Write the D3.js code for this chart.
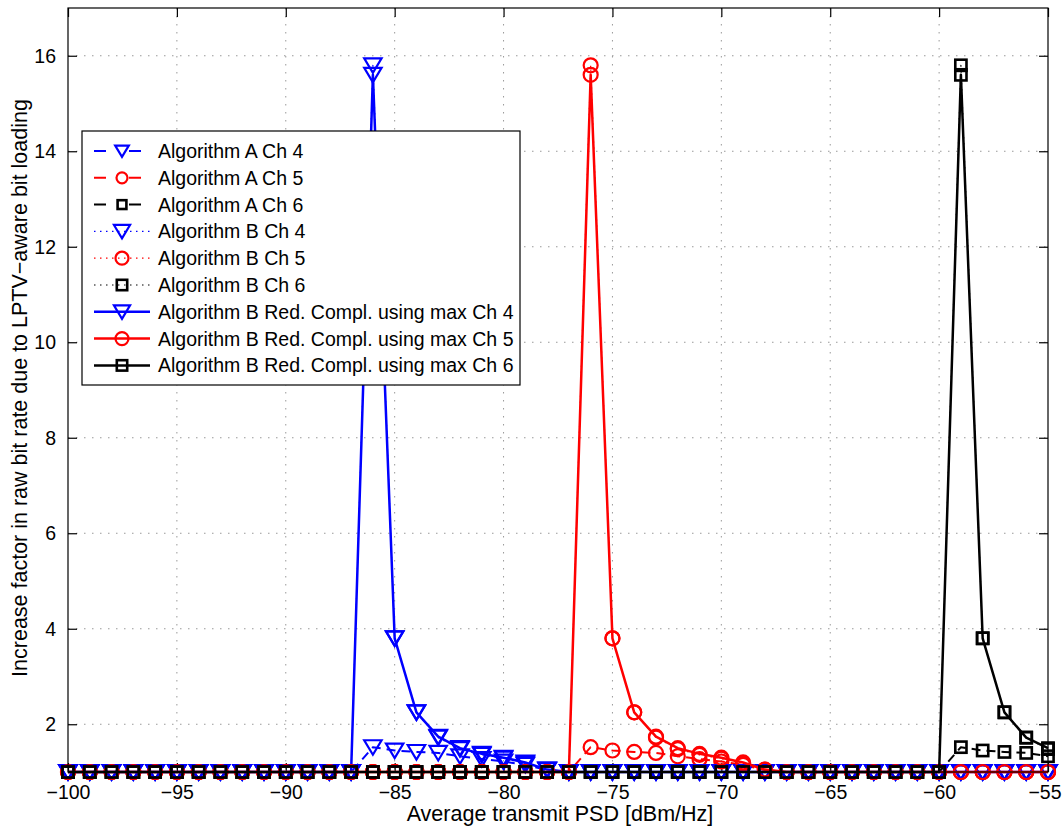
<!DOCTYPE html>
<html><head><meta charset="utf-8">
<script src="https://cdn.jsdelivr.net/npm/d3@7"></script>
<style>body{margin:0;background:#fff;} svg{display:block;font-family:"Liberation Sans",Arial,sans-serif;}</style>
</head><body>
<svg id="c" width="1062" height="827"></svg>
<script>
const xValues = [-100,-99,-98,-97,-96,-95,-94,-93,-92,-91,-90,-89,-88,-87,-86,-85,-84,-83,-82,-81,-80,-79,-78,-77,-76,-75,-74,-73,-72,-71,-70,-69,-68,-67,-66,-65,-64,-63,-62,-61,-60,-59,-58,-57,-56,-55];
const xTicks = [-100,-95,-90,-85,-80,-75,-70,-65,-60,-55];
const yTicks = [2,4,6,8,10,12,14,16];

const algA_ch4 = [1,1,1,1,1,1,1,1,1,1,1,1,1,1,1.52,1.45,1.42,1.40,1.33,1.27,1.22,1.15,1.04,1,1,1,1,1,1,1,1,1,1,1,1,1,1,1,1,1,1,1,1,1,1,1];
const algA_ch5 = [1,1,1,1,1,1,1,1,1,1,1,1,1,1,1,1,1,1,1,1,1,1,1,1,1.52,1.45,1.42,1.40,1.33,1.27,1.22,1.15,1.04,1,1,1,1,1,1,1,1,1,1,1,1,1];
const algA_ch6 = [1,1,1,1,1,1,1,1,1,1,1,1,1,1,1,1,1,1,1,1,1,1,1,1,1,1,1,1,1,1,1,1,1,1,1,1,1,1,1,1,1,1.52,1.45,1.42,1.40,1.33];
const algB_ch4 = [1,1,1,1,1,1,1,1,1,1,1,1,1,1,15.8,3.8,2.25,1.72,1.48,1.36,1.28,1.18,1.05,1,1,1,1,1,1,1,1,1,1,1,1,1,1,1,1,1,1,1,1,1,1,1];
const algB_ch5 = [1,1,1,1,1,1,1,1,1,1,1,1,1,1,1,1,1,1,1,1,1,1,1,1,15.8,3.8,2.25,1.72,1.48,1.36,1.28,1.18,1.05,1,1,1,1,1,1,1,1,1,1,1,1,1];
const algB_ch6 = [1,1,1,1,1,1,1,1,1,1,1,1,1,1,1,1,1,1,1,1,1,1,1,1,1,1,1,1,1,1,1,1,1,1,1,1,1,1,1,1,1,15.8,3.8,2.25,1.72,1.48];
const redB_ch4 = [1,1,1,1,1,1,1,1,1,1,1,1,1,1,15.6,3.8,2.25,1.74,1.50,1.38,1.30,1.20,1.05,1,1,1,1,1,1,1,1,1,1,1,1,1,1,1,1,1,1,1,1,1,1,1];
const redB_ch5 = [1,1,1,1,1,1,1,1,1,1,1,1,1,1,1,1,1,1,1,1,1,1,1,1,15.6,3.8,2.25,1.74,1.50,1.38,1.30,1.20,1.05,1,1,1,1,1,1,1,1,1,1,1,1,1];
const redB_ch6 = [1,1,1,1,1,1,1,1,1,1,1,1,1,1,1,1,1,1,1,1,1,1,1,1,1,1,1,1,1,1,1,1,1,1,1,1,1,1,1,1,1,15.6,3.8,2.25,1.72,1.50];

const seriesNames = ["Algorithm A Ch 4","Algorithm A Ch 5","Algorithm A Ch 6","Algorithm B Ch 4","Algorithm B Ch 5","Algorithm B Ch 6","Algorithm B Red. Compl. using max Ch 4","Algorithm B Red. Compl. using max Ch 5","Algorithm B Red. Compl. using max Ch 6"];
const seriesValues = [algA_ch4,algA_ch5,algA_ch6,algB_ch4,algB_ch5,algB_ch6,redB_ch4,redB_ch5,redB_ch6];
const seriesColors = ["#0000ff","#ff0000","#000000","#0000ff","#ff0000","#000000","#0000ff","#ff0000","#000000"];
const seriesMarkers = ["tri","circ","sq","tri","circ","sq","tri","circ","sq"];
const seriesDash = ["9,6","9,6","9,6","1.5,4.5","1.5,4.5","1.5,4.5",null,null,null];
const seriesWidth = [2,2,2,1.2,1.2,1.2,2.5,2.5,2.5];

const svg = d3.select("#c");
const L=68, R=1048, T=8, B=772;
const x = d3.scaleLinear().domain([-100,-55]).range([L,R]);
const y = d3.scaleLinear().domain([1,17]).range([B,T]);

// grid
const g = svg.append("g");
xTicks.forEach(t=>{ if(t>-100 && t<-55) g.append("line").attr("x1",x(t)).attr("x2",x(t)).attr("y1",T).attr("y2",B).attr("stroke","#999").attr("stroke-width",1).attr("stroke-dasharray","1.5,6.5"); });
yTicks.forEach(t=>{ g.append("line").attr("x1",L).attr("x2",R).attr("y1",y(t)).attr("y2",y(t)).attr("stroke","#999").attr("stroke-width",1).attr("stroke-dasharray","1.5,6.5"); });

// axes
const xa = svg.append("g").attr("transform",`translate(0,${B})`).call(d3.axisBottom(x).tickValues(xTicks).tickSizeInner(-9).tickSizeOuter(0).tickPadding(13).tickFormat(d=>String(d).replace("-","\u2212")));
const xt = svg.append("g").attr("transform",`translate(0,${T})`).call(d3.axisTop(x).tickValues(xTicks).tickSizeInner(-9).tickSizeOuter(0).tickFormat(""));
const ya = svg.append("g").attr("transform",`translate(${L},0)`).call(d3.axisLeft(y).tickValues(yTicks).tickSizeInner(-9).tickSizeOuter(0).tickPadding(12));
const yr = svg.append("g").attr("transform",`translate(${R},0)`).call(d3.axisRight(y).tickValues(yTicks).tickSizeInner(-9).tickSizeOuter(0).tickFormat(""));
[xa,xt,ya,yr].forEach(a=>{ a.select(".domain").remove(); a.selectAll("line").attr("stroke","#000").attr("stroke-width",1.2); a.selectAll("text").attr("font-size",19.5).attr("fill","#000").attr("font-family","Liberation Sans, Arial, sans-serif"); });
// keep the last x tick label inside the canvas
xa.selectAll(".tick").filter(d=>d===-55).select("text").attr("text-anchor","end").attr("x",13);

function marker(sel, type, color, size){
  if(type==="tri"){
    const h=size*0.9, w=size*0.62;
    sel.append("path").attr("d",`M${-w},${-h*0.55}L${w},${-h*0.55}L0,${h*0.6}Z`).attr("fill","none").attr("stroke",color).attr("stroke-width",2.2);
  } else if(type==="circ"){
    sel.append("circle").attr("r",size*0.5).attr("fill","none").attr("stroke",color).attr("stroke-width",2.2);
  } else {
    const s=size*0.8;
    sel.append("rect").attr("x",-s/2).attr("y",-s/2).attr("width",s).attr("height",s).attr("fill","none").attr("stroke",color).attr("stroke-width",2.6);
  }
}

const plot = svg.append("g");
const line = d3.line().x((d,i)=>x(xValues[i])).y(d=>y(d));
seriesValues.forEach((vals,si)=>{
  const p = plot.append("path").attr("d",line(vals)).attr("fill","none").attr("stroke",seriesColors[si]).attr("stroke-width",seriesWidth[si]).attr("stroke-linejoin","round");
  if(seriesDash[si]) p.attr("stroke-dasharray",seriesDash[si]);
  vals.forEach((v,i)=>{
    const m = plot.append("g").attr("transform",`translate(${x(xValues[i])},${y(v)})`);
    marker(m, seriesMarkers[si], seriesColors[si], 14);
  });
});

// frame
svg.append("rect").attr("x",L).attr("y",T).attr("width",R-L).attr("height",B-T).attr("fill","none").attr("stroke","#000").attr("stroke-width",1.2);

// legend
const lg = svg.append("g");
lg.append("rect").attr("x",82).attr("y",131).attr("width",438).attr("height",254).attr("fill","#fff").attr("stroke","#000").attr("stroke-width",1.2);
seriesNames.forEach((n,i)=>{
  const yy = 151 + i*26.8;
  const ln = lg.append("line").attr("x1",94).attr("x2",150).attr("y1",yy).attr("y2",yy).attr("stroke",seriesColors[i]).attr("stroke-width",seriesWidth[i]);
  if(i<3) ln.attr("stroke-dasharray","12,9,0,14,12");
  else if(i<6) ln.attr("stroke-dasharray","1.5,4.5");
  const m = lg.append("g").attr("transform",`translate(122,${yy})`);
  marker(m, seriesMarkers[i], seriesColors[i], i<3? 11: 13);
  lg.append("text").attr("x",158).attr("y",yy).attr("dy","0.36em").attr("font-size",19.5).attr("fill","#000").text(n);
});

// axis labels
svg.append("text").attr("x",560).attr("y",821).attr("text-anchor","middle").attr("font-size",21.5).text("Average transmit PSD [dBm/Hz]");
svg.append("text").attr("transform","translate(27,388) rotate(-90)").attr("text-anchor","middle").attr("font-size",21.5).text("Increase factor in raw bit rate due to LPTV\u2212aware bit loading");
</script>
</body></html>
